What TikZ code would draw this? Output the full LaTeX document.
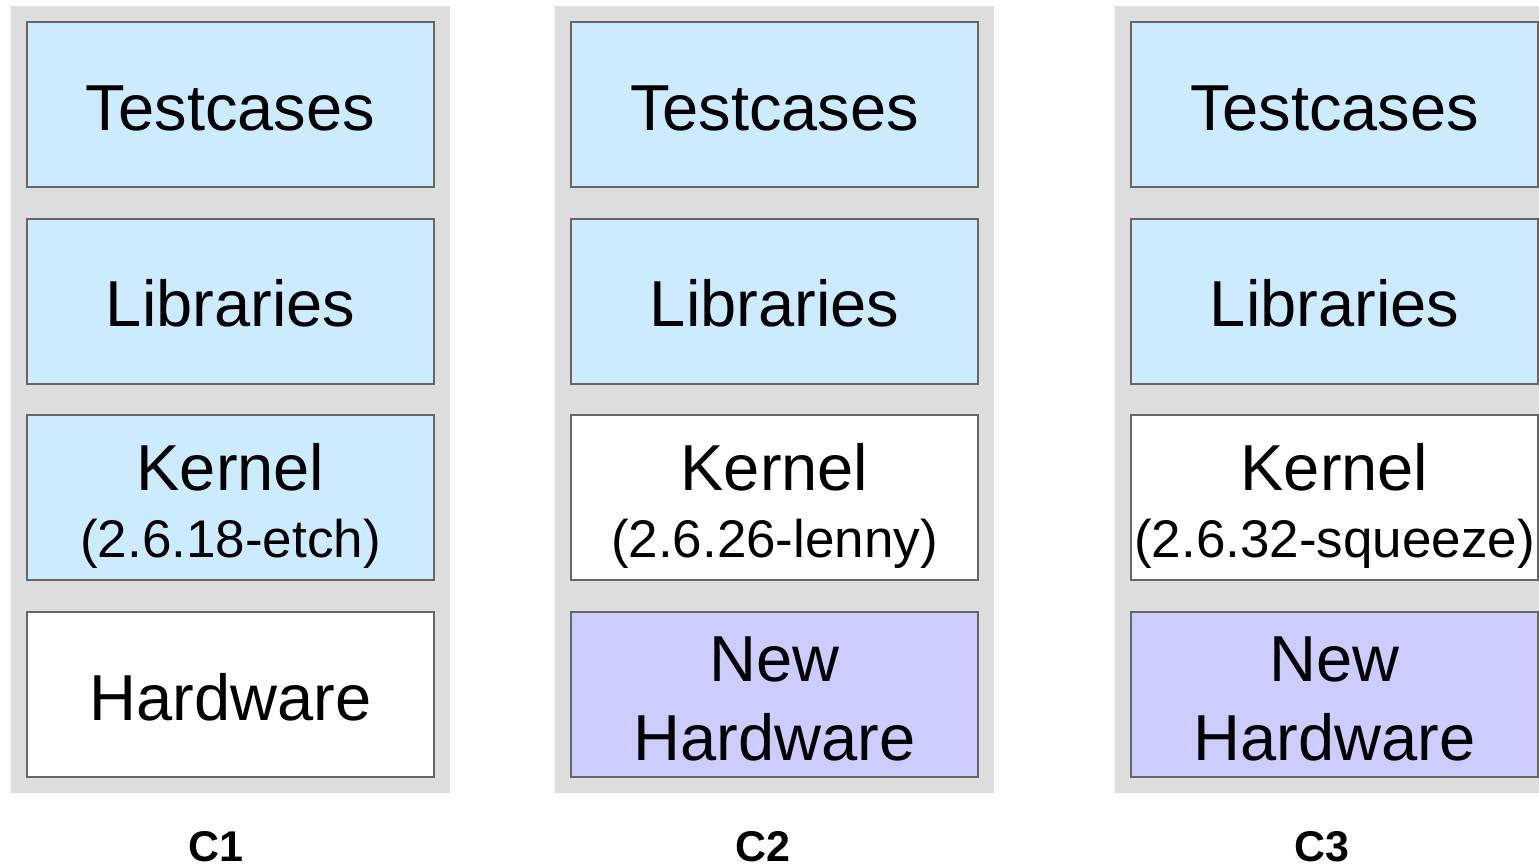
\documentclass[tikz,border=0pt]{standalone}
\usepackage{fontspec}
\setmainfont{Liberation Sans}
\definecolor{colbg}{HTML}{DDDDDD}
\definecolor{boxline}{HTML}{666666}
\definecolor{lblue}{HTML}{CCEBFF}
\definecolor{lpurple}{HTML}{CCCCFF}
\begin{document}
\begin{tikzpicture}[x=1pt,y=-1pt,
  colbox/.style={fill=colbg,draw=none,minimum width=439pt,minimum height=787pt,inner sep=0pt,anchor=north west},
  box/.style={draw=boxline,line width=2pt,minimum width=407pt,minimum height=165pt,inner sep=0pt,anchor=north west},
  bluebox/.style={box,fill=lblue},
  whitebox/.style={box,fill=white},
  purplebox/.style={box,fill=lpurple},
  big/.style={font=\fontsize{65}{78}\selectfont,anchor=base,inner sep=0pt},
  small/.style={font=\fontsize{53}{60}\selectfont,anchor=base,inner sep=0pt},
  clabel/.style={font=\fontsize{43}{50}\selectfont\bfseries,anchor=base,inner sep=0pt}]
\useasboundingbox (0,0) rectangle (1539,867);
\clip (0,0) rectangle (1539,867);
\fill[white] (0,0) rectangle (1539,867);
% columns
\node[colbox] (g1) at (11,6) {};
\node[colbox] (g2) at (555,6) {};
\node[colbox] (g3) at (1115,6) {};
% C1
\node[bluebox] (t1) at (26,21) {};
\node[bluebox] (l1) at (26,218) {};
\node[bluebox] (k1) at (26,414) {};
\node[whitebox] (h1) at (26,611) {};
% C2
\node[bluebox] (t2) at (570,21) {};
\node[bluebox] (l2) at (570,218) {};
\node[whitebox] (k2) at (570,414) {};
\node[purplebox] (h2) at (570,611) {};
% C3
\node[bluebox] (t3) at (1130,21) {};
\node[bluebox] (l3) at (1130,218) {};
\node[whitebox] (k3) at (1130,414) {};
\node[purplebox] (h3) at (1130,611) {};
% texts C1
\node[big] (tt1) at (230.5,130) {Testcases};
\node[big] (lt1) at (230.5,326) {Libraries};
\node[big] (kt1) at (230.5,490) {Kernel};
\node[small] (kv1) at (230.5,557) {(2.6.18-etch)};
\node[big] (ht1) at (230.5,720) {Hardware};
% texts C2
\node[big] (tt2) at (774.5,130) {Testcases};
\node[big] (lt2) at (774.5,326) {Libraries};
\node[big] (kt2) at (774.5,490) {Kernel};
\node[small] (kv2) at (774.5,557) {(2.6.26-lenny)};
\node[big] (nt2) at (774.5,681) {New};
\node[big] (ht2) at (774.5,760) {Hardware};
% texts C3
\node[big] (tt3) at (1334.5,130) {Testcases};
\node[big] (lt3) at (1334.5,326) {Libraries};
\node[big] (kt3) at (1334.5,490) {Kernel};
\node[small] (kv3) at (1334.5,557) {(2.6.32-squeeze)};
\node[big] (nt3) at (1334.5,681) {New};
\node[big] (ht3) at (1334.5,760) {Hardware};
% labels
\node[clabel] (c1) at (216,861) {C1};
\node[clabel] (c2) at (763,861) {C2};
\node[clabel] (c3) at (1322,861) {C3};
\end{tikzpicture}
\end{document}
